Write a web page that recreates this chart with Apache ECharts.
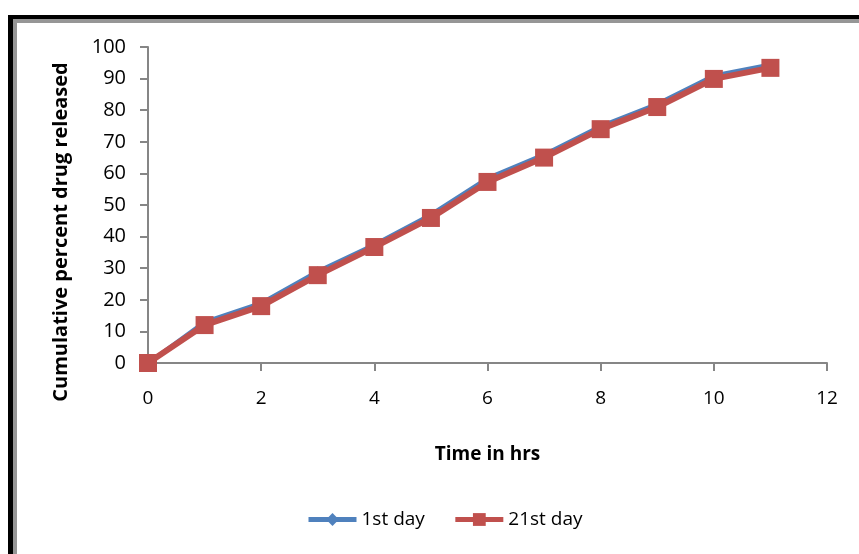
<!DOCTYPE html>
<html>
<head>
<meta charset="utf-8">
<script src="https://cdn.jsdelivr.net/npm/echarts@6/dist/echarts.min.js"></script>
<style>html,body{margin:0;padding:0;background:#fff;}#c{width:859px;height:554px;}</style>
</head>
<body>
<div id="c"></div>
<script>
const timeHrs = [0,1,2,3,4,5,6,7,8,9,10,11];
const day1 = [0,13,19,29,37.5,47,58.5,66,75,82,91,94.5];
const day21 = [0,12,18,27.8,36.7,45.9,57.3,65,74,81,89.9,93.4];
const seriesNames = ['1st day','21st day'];
const xTitle = 'Time in hrs';
const yTitle = 'Cumulative percent drug released';

const chart = echarts.init(document.getElementById('c'));
const F = '"Open Sans", Lato, sans-serif';
chart.setOption({
  animation:false,
  backgroundColor:'#fff',
  graphic:[
    {type:'rect',shape:{x:8,y:15,width:851,height:4},style:{fill:'#000'},z:100},
    {type:'rect',shape:{x:13,y:19,width:846,height:4},style:{fill:'#969696'},z:100},
    {type:'rect',shape:{x:8,y:15,width:5,height:539},style:{fill:'#000'},z:100},
    {type:'rect',shape:{x:13,y:19,width:4,height:535},style:{fill:'#969696'},z:100}
  ],
  grid:{left:148,right:32,top:47,bottom:191,containLabel:false},
  legend:{
    bottom:20,left:301,
    data:seriesNames,
    itemWidth:48,itemHeight:16,itemGap:28,
    lineStyle:{width:5},
    textStyle:{fontFamily:F,fontSize:19,color:'#000'}
  },
  xAxis:{
    type:'value',min:0,max:12,interval:2,
    name:xTitle,nameLocation:'middle',nameGap:82,
    nameTextStyle:{fontFamily:F,fontSize:19,fontWeight:'bold',color:'#000'},
    axisLine:{lineStyle:{color:'#868686',width:2}},
    axisTick:{show:true,length:8,lineStyle:{color:'#868686',width:2}},
    axisLabel:{fontFamily:F,fontSize:19,color:'#000',margin:26},
    splitLine:{show:false}
  },
  yAxis:{
    type:'value',min:0,max:100,interval:10,
    name:yTitle,nameLocation:'middle',nameGap:77,nameRotate:90,
    nameTextStyle:{fontFamily:F,fontSize:20,fontWeight:'bold',color:'#000',padding:[0,54,0,0]},
    axisLine:{show:true,lineStyle:{color:'#868686',width:2}},
    axisTick:{show:true,length:8,lineStyle:{color:'#868686',width:2}},
    axisLabel:{fontFamily:F,fontSize:20,color:'#000',margin:22},
    splitLine:{show:false}
  },
  series:[
    {name:seriesNames[0],type:'line',data:timeHrs.map((t,i)=>[t,day1[i]]),
     symbol:'diamond',symbolSize:10,
     lineStyle:{color:'#4F81BD',width:4},itemStyle:{color:'#4F81BD'},z:2},
    {name:seriesNames[1],type:'line',data:timeHrs.map((t,i)=>[t,day21[i]]),
     symbol:'rect',symbolSize:18,
     lineStyle:{color:'#C0504D',width:6},itemStyle:{color:'#C0504D'},z:3}
  ]
});
</script>
</body>
</html>
